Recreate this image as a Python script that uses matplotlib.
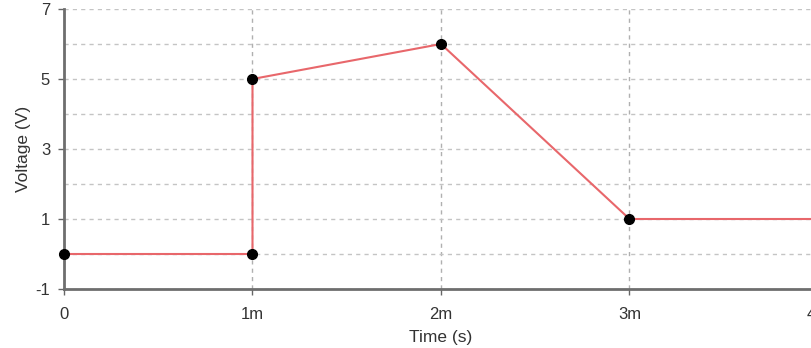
import matplotlib.pyplot as plt

# Datos de entrada
tiempo = [0.0, 0.001, 0.001, 0.002, 0.003, 0.004]
voltaje = [0, 0, 5, 6, 1, 1]

x_ticks = [0.0, 0.001, 0.002, 0.003, 0.004]
x_labels = ['0', '1m', '2m', '3m', '4m']
y_ticks = [-1, 1, 3, 5, 7]
y_minor = [0, 2, 4, 6]

plt.rcParams['font.family'] = ['Liberation Sans', 'DejaVu Sans']
plt.rcParams['axes.unicode_minus'] = False

fig = plt.figure(figsize=(8.12, 3.48), dpi=100)
ax = fig.add_axes([64 / 812, 59 / 348, 754 / 812, 280 / 348])

ax.plot(tiempo, voltaje, color='#e8676b', linewidth=1.5, zorder=3)
ax.plot(tiempo, voltaje, 'o', color='black', markersize=7, zorder=4, clip_on=False)

ax.set_xlim(0, 0.004)
ax.set_ylim(-1, 7)
ax.set_xticks(x_ticks)
ax.set_xticklabels(x_labels)
ax.set_yticks(y_ticks)
ax.set_yticks(y_minor, minor=True)

ax.grid(True, which='both', axis='y', linestyle=(0, (3, 3)), color='#c4c4c4', linewidth=1)
ax.grid(True, which='major', axis='x', linestyle=(0, (3, 3)), color='#b0b0b0', linewidth=1)
ax.tick_params(which='minor', length=0)
ax.tick_params(which='major', length=4, width=1, color='#666666', labelsize=12,
               labelcolor='#333333', direction='out')
ax.tick_params(axis='x', pad=9)
ax.tick_params(axis='y', pad=6)

for s in ['top', 'right']:
    ax.spines[s].set_visible(False)
for s in ['left', 'bottom']:
    ax.spines[s].set_color('#6e6e6e')
    ax.spines[s].set_linewidth(2)

ax.set_xlabel('Time (s)', fontsize=12.5, color='#333333', labelpad=6)
ax.set_ylabel('Voltage (V)', fontsize=12.5, color='#333333', labelpad=3)

fig.savefig('out.png', dpi=100)
